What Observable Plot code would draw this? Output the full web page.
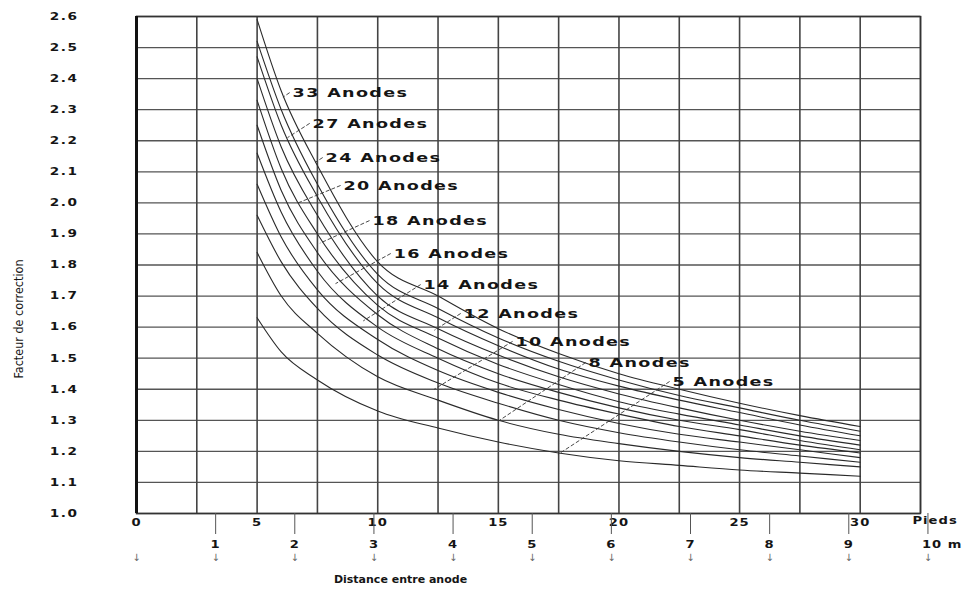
<!DOCTYPE html>
<html>
<head>
<meta charset="utf-8">
<script src="https://cdn.jsdelivr.net/npm/d3@7"></script>
<script src="https://cdn.jsdelivr.net/npm/@observablehq/plot@0.6"></script>
<style>
  body { margin: 0; background: #fff; }
  #chart svg { display: block; }
</style>
</head>
<body>
<div id="chart"></div>
<script>
// ---- data ----
const FT_PER_M = 3.28084;
const distanceFt = [5, 6, 7.5, 10, 12.5, 15, 17.5, 20, 22.5, 25, 27.5, 30];

const anodes33 = [2.59, 2.36, 2.12, 1.81, 1.70, 1.595, 1.515, 1.45, 1.40, 1.355, 1.315, 1.28];
const anodes27 = [2.52, 2.30, 2.06, 1.77, 1.66, 1.565, 1.49, 1.43, 1.38, 1.34, 1.30, 1.265];
const anodes24 = [2.47, 2.25, 2.02, 1.74, 1.63, 1.54, 1.465, 1.41, 1.365, 1.325, 1.285, 1.25];
const anodes20 = [2.40, 2.18, 1.96, 1.70, 1.595, 1.51, 1.44, 1.385, 1.34, 1.30, 1.265, 1.235];
const anodes18 = [2.33, 2.11, 1.90, 1.67, 1.565, 1.48, 1.415, 1.36, 1.32, 1.285, 1.25, 1.22];
const anodes16 = [2.25, 2.04, 1.84, 1.64, 1.53, 1.45, 1.39, 1.34, 1.30, 1.27, 1.235, 1.205];
const anodes14 = [2.16, 1.97, 1.78, 1.60, 1.50, 1.42, 1.365, 1.32, 1.28, 1.25, 1.22, 1.195];
const anodes12 = [2.06, 1.89, 1.72, 1.56, 1.46, 1.39, 1.335, 1.29, 1.255, 1.23, 1.205, 1.18];
const anodes10 = [1.96, 1.81, 1.66, 1.51, 1.42, 1.355, 1.30, 1.26, 1.23, 1.205, 1.185, 1.165];
const anodes8  = [1.84, 1.70, 1.58, 1.44, 1.365, 1.30, 1.255, 1.225, 1.20, 1.18, 1.165, 1.15];
const anodes5  = [1.63, 1.52, 1.43, 1.33, 1.275, 1.23, 1.195, 1.17, 1.155, 1.14, 1.13, 1.12];

const seriesNames = ["33 Anodes", "27 Anodes", "24 Anodes", "20 Anodes", "18 Anodes", "16 Anodes",
                     "14 Anodes", "12 Anodes", "10 Anodes", "8 Anodes", "5 Anodes"];
const seriesValues = [anodes33, anodes27, anodes24, anodes20, anodes18, anodes16,
                      anodes14, anodes12, anodes10, anodes8, anodes5];

// label anchor (ft, factor) and leader end point (ft, factor), same order as seriesNames
const labelFt     = [6.47, 7.30, 7.84, 8.58, 9.78, 10.66, 11.90, 13.56, 15.71, 18.74, 22.22];
const labelFactor = [2.355, 2.256, 2.146, 2.056, 1.943, 1.837, 1.737, 1.644, 1.554, 1.486, 1.425];
const leaderFt     = [6.07, 6.26, 7.40, 6.70, 7.60, 8.25, 9.40, 12.35, 12.34, 15.05, 17.47];
const leaderFactor = [2.34, 2.21, 2.13, 2.00, 1.87, 1.74, 1.62, 1.59, 1.40, 1.30, 1.19];

// axes / grid
const yTicks = [1.0, 1.1, 1.2, 1.3, 1.4, 1.5, 1.6, 1.7, 1.8, 1.9, 2.0, 2.1, 2.2, 2.3, 2.4, 2.5, 2.6];
const xGridFt = [0, 2.5, 5, 7.5, 10, 12.5, 15, 17.5, 20, 22.5, 25, 27.5, 30, 32.5];
const feetTicks = [0, 5, 10, 15, 20, 25, 30];
const meterTicks = [0, 1, 2, 3, 4, 5, 6, 7, 8, 9, 10];
const feetUnit = "Pieds";
const meterUnit = "m";
const xTitle = "Distance entre anode";
const yTitle = "Facteur de correction";

// ---- build tables ----
const curves = seriesNames.flatMap((name, i) =>
  distanceFt.map((ft, j) => ({series: name, ft, v: seriesValues[i][j]})));
const labels = seriesNames.map((name, i) => ({
  name, x: labelFt[i], y: labelFactor[i], ex: leaderFt[i], ey: leaderFactor[i]
}));

const bold = {fontWeight: "bold", fill: "#151515"};

const chart = Plot.plot({
  width: 977,
  height: 590,
  marginLeft: 136,
  marginRight: 57,
  marginTop: 16,
  marginBottom: 77,
  x: {domain: [0, 32.5], axis: null},
  y: {domain: [1.0, 2.6], axis: null},
  style: {fontFamily: "'DejaVu Sans', sans-serif", background: "#fff", color: "#151515"},
  marks: [
    Plot.ruleY(yTicks, {stroke: "#555", strokeWidth: 1.3}),
    Plot.ruleX(xGridFt, {stroke: "#444", strokeWidth: 1.6}),
    Plot.frame({stroke: "#333", strokeWidth: 1.5}),
    Plot.ruleX([0], {stroke: "#111", strokeWidth: 3}),
    Plot.line(curves, {x: "ft", y: "v", z: "series", curve: "monotone-x",
      stroke: "#2a2a2a", strokeWidth: 1.1}),
    Plot.link(labels, {x1: d => d.x - 0.12, y1: "y", x2: "ex", y2: "ey",
      stroke: "#333", strokeWidth: 0.9, strokeDasharray: "4,2"}),
    Plot.text(labels, {x: "x", y: "y", text: "name", textAnchor: "start",
      fontSize: 13, ...bold}),
    // y tick labels
    Plot.text(yTicks, {y: d => d, frameAnchor: "left", dx: -58, textAnchor: "end",
      text: d => d.toFixed(1), fontSize: 10.5, ...bold}),
    // feet tick labels
    Plot.text(feetTicks, {x: d => d, frameAnchor: "bottom", dy: 12, textAnchor: "middle",
      text: d => String(d), fontSize: 10.5, ...bold}),
    Plot.text([feetUnit], {frameAnchor: "bottom-right", dx: -8, dy: 10, textAnchor: "start",
      fontSize: 10.5, ...bold}),
    // meter ticks, labels and arrows
    Plot.axisX({ticks: meterTicks.slice(1).map(m => m * FT_PER_M), tickSize: 21,
      tickFormat: () => "", label: null, stroke: "#555"}),
    Plot.text(meterTicks.slice(1, -1), {x: d => d * FT_PER_M, frameAnchor: "bottom", dy: 34,
      textAnchor: "middle", text: d => String(d), fontSize: 10.5, ...bold}),
    Plot.text(meterTicks.slice(-1), {x: d => d * FT_PER_M, frameAnchor: "bottom", dy: 34,
      dx: -6, textAnchor: "start", text: d => `${d} ${meterUnit}`, fontSize: 10.5, ...bold}),
    Plot.text(meterTicks, {x: d => d * FT_PER_M, frameAnchor: "bottom", dy: 47,
      textAnchor: "middle", text: () => "↓", fontSize: 10, fill: "#666"}),
    // titles
    Plot.text([xTitle], {frameAnchor: "bottom", dx: -128, dy: 69, textAnchor: "middle",
      fontSize: 11, ...bold}),
    Plot.text([yTitle], {frameAnchor: "left", dx: -118, dy: 54, rotate: -90, textAnchor: "middle",
      fontSize: 12.5, fill: "#151515",
      fontFamily: "'Liberation Sans Narrow', 'DejaVu Sans Condensed', sans-serif"})
  ]
});

// widen the lettering to mimic the stretched scan
const svg = d3.select(chart);
function widen(el, sx, spacing) {
  const t = el.getAttribute("transform") || "";
  el.setAttribute("transform", `${t} scale(${sx},1)`);
  el.style.letterSpacing = spacing;
}
svg.selectAll("text").each(function () {
  const t = this.textContent;
  if (seriesNames.includes(t)) widen(this, 1.35, "1px");
  else if (/^\d+\.\d$/.test(t)) widen(this, 1.3, "1.2px");
  else if (/^\d+( m)?$/.test(t) || t === feetUnit) widen(this, 1.25, "0.8px");
});

document.getElementById("chart").appendChild(chart);
</script>
</body>
</html>
